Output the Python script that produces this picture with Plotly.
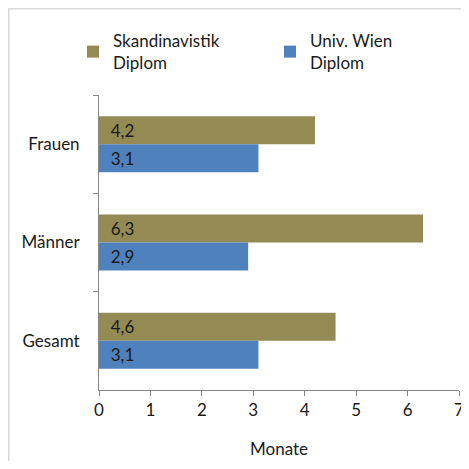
import plotly.graph_objects as go

categories = ["Frauen", "Männer", "Gesamt"]
series_names = ["Skandinavistik<br>Diplom", "Univ. Wien<br>Diplom"]
skandinavistik = [4.2, 6.3, 4.6]
univ_wien = [3.1, 2.9, 3.1]
colors = ["#948A54", "#4F81BD"]
x_ticks = [0, 1, 2, 3, 4, 5, 6, 7]
x_title = "Monate"

FONT = "Lato, 'Open Sans', sans-serif"
FS = 17

W, H = 461, 453
L, R, T, B = 91, 10, 87, 71
PW, PH = W - L - R, H - T - B

fig = go.Figure()
for name, vals, col in [(series_names[0], skandinavistik, colors[0]),
                        (series_names[1], univ_wien, colors[1])]:
    fig.add_trace(go.Bar(
        y=categories, x=vals, name=name, orientation="h",
        marker=dict(color=col, line=dict(width=0)),
        texttemplate="\u00a0\u00a0%{x:.1f}", textposition="inside",
        insidetextanchor="start",
        textfont=dict(family=FONT, size=FS, color="#1a1a1a"),
        cliponaxis=False,
    ))

border = dict(color="#D9D9D9", width=1.5)
fig.update_layout(
    width=W, height=H,
    margin=dict(l=L, r=R, t=T, b=B, autoexpand=False),
    paper_bgcolor="white", plot_bgcolor="white",
    separators=",.",
    barmode="group", bargap=0.43, bargroupgap=0,
    font=dict(family=FONT, size=FS, color="#1a1a1a"),
    showlegend=True,
    legend=dict(orientation="h", x=(65 - L) / PW, xanchor="left",
                y=1 + (T - 15) / PH, yanchor="top",
                entrywidth=152, entrywidthmode="pixels",
                font=dict(family=FONT, size=FS, color="#1a1a1a"),
                bgcolor="rgba(0,0,0,0)"),
    xaxis=dict(range=[0, 7], tickvals=x_ticks, showgrid=False,
               zeroline=False, showline=True, linecolor="#868686",
               linewidth=1, ticks="outside", ticklen=5,
               tickcolor="#868686",
               title=dict(text=x_title, standoff=23,
                          font=dict(family=FONT, size=FS))),
    yaxis=dict(autorange="reversed", type="category",
               showgrid=False, zeroline=False, showline=True,
               linecolor="#868686", linewidth=1, ticks="outside",
               ticklen=5, tickcolor="#868686", tickson="boundaries",
               ticklabelstandoff=15),
    shapes=[
        dict(type="line", xref="paper", yref="paper",
             x0=(0.75 - L) / PW, x1=(0.75 - L) / PW,
             y0=-B / PH, y1=1 + T / PH, line=border, layer="below"),
        dict(type="line", xref="paper", yref="paper",
             x0=-L / PW, x1=1 + R / PW,
             y0=1 + (T - 0.75) / PH, y1=1 + (T - 0.75) / PH,
             line=border, layer="below"),
    ],
)

fig.write_html("out.html")
